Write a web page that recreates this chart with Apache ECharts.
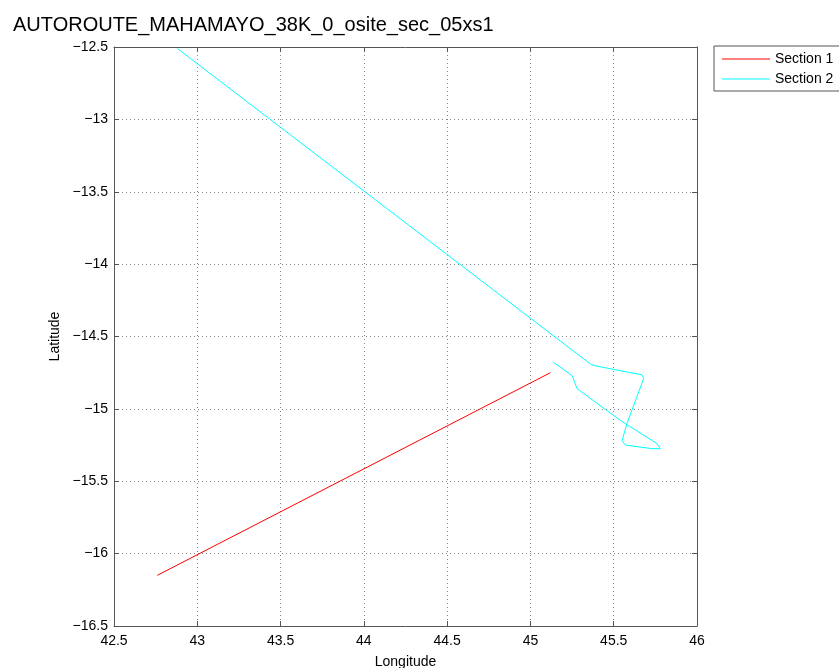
<!DOCTYPE html>
<html>
<head>
<meta charset="utf-8">
<title>AUTOROUTE_MAHAMAYO_38K_0_osite_sec_05xs1</title>
<script src="https://cdn.jsdelivr.net/npm/echarts@6/dist/echarts.min.js"></script>
<style>
  html, body { margin: 0; padding: 0; background: #fff; }
  #chart { width: 839px; height: 668px; }
</style>
</head>
<body>
<div id="chart"></div>
<script>
// Track sections: [longitude, latitude]
const section1Lon = [42.76, 45.12];
const section1Lat = [-16.15, -14.75];

const section2Lon = [42.88, 45.36, 45.38, 45.51, 45.67, 45.68, 45.58, 45.55, 45.57, 45.73, 45.78, 45.76, 45.54, 45.28, 45.25, 45.14];
const section2Lat = [-12.51, -14.69, -14.70, -14.73, -14.765, -14.79, -15.10, -15.22, -15.25, -15.275, -15.275, -15.24, -15.08, -14.86, -14.77, -14.68];

const seriesNames = ['Section 1', 'Section 2'];
const seriesColors = ['#ff0000', '#00ffff'];

const xTicks = { min: 42.5, max: 46, step: 0.5 };
const yTicks = { min: -16.5, max: -12.5, step: 0.5 };

function pairs(lon, lat) {
  return lon.map((v, i) => [v, lat[i]]);
}

const font = 'Liberation Sans, Arial, Helvetica, sans-serif';
const fmtY = v => (v < 0 ? '\u2212' + String(-v) : String(v));

const gridLine = { show: true, lineStyle: { color: '#8a8a8a', type: [1, 3], width: 1 } };
const axisLine = { show: true, lineStyle: { color: '#555', width: 1 } };
const tick = { show: true, inside: true, length: 5, lineStyle: { color: '#555' } };

const chart = echarts.init(document.getElementById('chart'), null, { renderer: 'canvas' });
chart.setOption({
  animation: false,
  backgroundColor: '#fff',
  title: {
    text: 'AUTOROUTE_MAHAMAYO_38K_0_osite_sec_05xs1',
    left: 8, top: 10,
    textStyle: { fontFamily: font, fontSize: 20, fontWeight: 'normal', color: '#000' }
  },
  legend: {
    orient: 'vertical',
    left: 714, top: 46,
    itemWidth: 48, itemHeight: 1, itemGap: 6,
    padding: [6, 8, 5, 8],
    borderColor: '#555', borderWidth: 1,
    backgroundColor: '#fff',
    icon: 'rect',
    textStyle: { fontFamily: font, fontSize: 14, color: '#000', padding: [0, 0, 0, 0] },
    data: seriesNames
  },
  grid: {
    left: 114, right: 142, top: 47, bottom: 42, show: false,
    containLabel: false, outerBoundsMode: 'none'
  },
  xAxis: [{
    type: 'value', min: xTicks.min, max: xTicks.max, interval: xTicks.step,
    name: 'Longitude', nameLocation: 'middle', nameGap: 29,
    nameTextStyle: { fontFamily: font, fontSize: 14, color: '#000' },
    axisLine, axisTick: tick, splitLine: gridLine,
    axisLabel: { fontFamily: font, fontSize: 14, color: '#000', margin: 8 }
  }, {
    type: 'value', position: 'top', min: xTicks.min, max: xTicks.max, interval: xTicks.step,
    axisLine, axisTick: tick, splitLine: { show: false }, axisLabel: { show: false }
  }],
  yAxis: [{
    type: 'value', min: yTicks.min, max: yTicks.max, interval: yTicks.step,
    name: 'Latitude', nameLocation: 'middle', nameGap: 46,
    nameTextStyle: { fontFamily: font, fontSize: 14, color: '#000' },
    axisLine, axisTick: tick, splitLine: gridLine,
    axisLabel: { fontFamily: font, fontSize: 14, color: '#000', margin: 6, formatter: fmtY }
  }, {
    type: 'value', position: 'right', min: yTicks.min, max: yTicks.max, interval: yTicks.step,
    axisLine, axisTick: tick, splitLine: { show: false }, axisLabel: { show: false }
  }],
  series: [{
    name: seriesNames[0], type: 'line', showSymbol: false,
    color: seriesColors[0], lineStyle: { width: 1, color: seriesColors[0] },
    data: pairs(section1Lon, section1Lat)
  }, {
    name: seriesNames[1], type: 'line', showSymbol: false,
    color: seriesColors[1], lineStyle: { width: 1, color: seriesColors[1] },
    data: pairs(section2Lon, section2Lat)
  }]
});
</script>
</body>
</html>
